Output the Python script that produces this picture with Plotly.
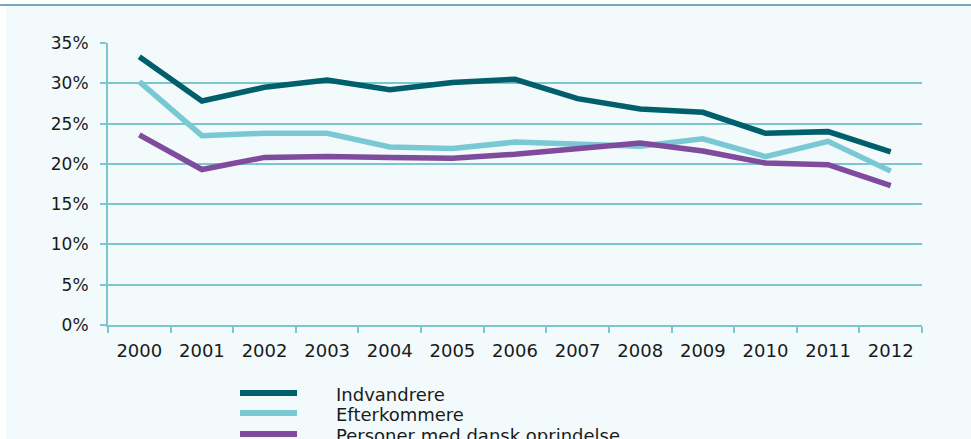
import plotly.graph_objects as go

# Andel (%) per år for tre befolkningsgrupper
years = ["2000", "2001", "2002", "2003", "2004", "2005", "2006",
         "2007", "2008", "2009", "2010", "2011", "2012"]
indvandrere = [33.3, 27.8, 29.5, 30.4, 29.2, 30.1, 30.5, 28.1, 26.8, 26.4, 23.8, 24.0, 21.5]
efterkommere = [30.2, 23.5, 23.8, 23.8, 22.1, 21.9, 22.7, 22.4, 22.2, 23.1, 20.9, 22.8, 19.1]
dansk_oprindelse = [23.6, 19.3, 20.8, 20.9, 20.8, 20.7, 21.2, 21.9, 22.6, 21.6, 20.1, 19.9, 17.3]

series_names = ["Indvandrere", "Efterkommere", "Personer med dansk oprindelse"]
series_values = [indvandrere, efterkommere, dansk_oprindelse]
series_colors = ["#005f6b", "#7ac8d3", "#7f4b9c"]

W, H = 971, 439
L, R, T, B = 108, 49, 43, 114
GRID = "#7cc6d0"
FONT = "DejaVu Sans"
TEXT = "#1a1a1a"

fig = go.Figure()
for name, vals, col in zip(series_names, series_values, series_colors):
    fig.add_trace(go.Scatter(
        x=years, y=vals, name=name, mode="lines",
        line=dict(color=col, width=5.5),
        showlegend=False,
    ))

PW, PH = W - L - R, H - T - B


def px_x(px):
    return (px - L) / PW


def px_y(py):
    return (H - B - py) / PH


# Panel background and top rule
shapes = [
    dict(type="rect", xref="paper", yref="paper", layer="below",
         x0=px_x(6), x1=px_x(W), y0=px_y(H), y1=px_y(6),
         fillcolor="#f2fafc", line=dict(width=0)),
    dict(type="line", xref="paper", yref="paper",
         x0=px_x(0), x1=px_x(W), y0=px_y(5), y1=px_y(5),
         line=dict(color="#72aab8", width=2)),
]

# Legend drawn below the plot
annotations = []
leg_y = [393, 413, 434]
for name, col, py in zip(series_names, series_colors, leg_y):
    shapes.append(dict(type="line", xref="paper", yref="paper",
                       x0=px_x(240), x1=px_x(297), y0=px_y(py), y1=px_y(py),
                       line=dict(color=col, width=6)))
    annotations.append(dict(xref="paper", yref="paper",
                            x=px_x(334), y=px_y(py + 1),
                            xanchor="left", yanchor="middle", showarrow=False,
                            text=name, font=dict(family=FONT, size=18, color=TEXT)))

fig.update_layout(
    width=W, height=H,
    margin=dict(l=L, r=R, t=T, b=B),
    paper_bgcolor="white",
    plot_bgcolor="rgba(0,0,0,0)",
    shapes=shapes,
    annotations=annotations,
    font=dict(family=FONT, size=18, color=TEXT),
    xaxis=dict(
        type="category", tickson="boundaries", ticks="outside", ticklen=6,
        tickcolor=GRID, tickwidth=2, showgrid=False,
        showline=True, linecolor=GRID, linewidth=2,
        range=[-0.5, 12.5], ticklabelstandoff=8,
        tickfont=dict(family=FONT, size=18, color=TEXT),
    ),
    yaxis=dict(
        range=[0, 35], dtick=5, ticksuffix="%", ticks="outside", ticklen=6,
        tickcolor=GRID, tickwidth=2, showgrid=True, gridcolor=GRID, gridwidth=2,
        showline=True, linecolor=GRID, linewidth=2, zeroline=False,
        ticklabelstandoff=8,
        tickfont=dict(family=FONT, size=17, color=TEXT),
    ),
)

fig.write_html("out.html")
